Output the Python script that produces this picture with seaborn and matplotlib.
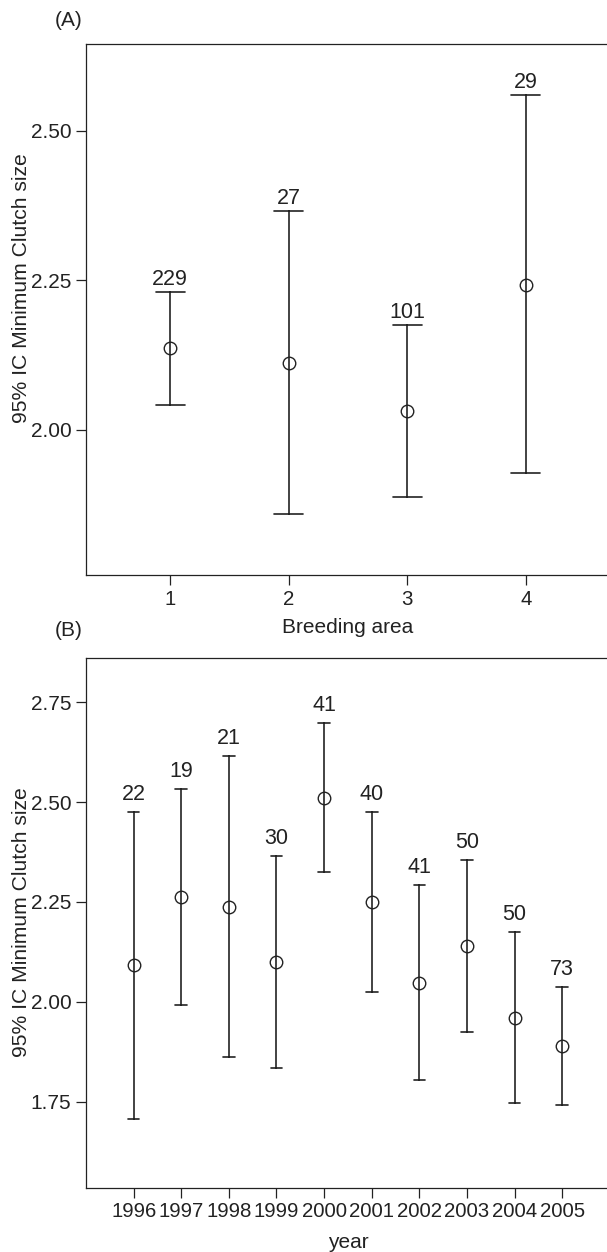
import numpy as np
import pandas as pd
import seaborn as sns
import matplotlib.pyplot as plt
from matplotlib.ticker import FormatStrFormatter

# Panel A: breeding area (mean and 95% CI limits, n per group)
areas = ['1', '2', '3', '4']
area_mean = [2.137, 2.112, 2.031, 2.243]
area_low = [2.042, 1.859, 1.888, 1.927]
area_high = [2.231, 2.366, 2.175, 2.560]
area_n = [229, 27, 101, 29]

# Panel B: year
years = ['1996', '1997', '1998', '1999', '2000', '2001', '2002', '2003', '2004', '2005']
year_mean = [2.091, 2.262, 2.238, 2.100, 2.511, 2.249, 2.048, 2.140, 1.960, 1.890]
year_low = [1.707, 1.992, 1.861, 1.835, 2.324, 2.024, 1.805, 1.924, 1.746, 1.742]
year_high = [2.475, 2.533, 2.615, 2.365, 2.699, 2.475, 2.292, 2.354, 2.174, 2.038]
year_n = [22, 19, 21, 30, 41, 40, 41, 50, 50, 73]

ink = '#222222'

sns.set_style('ticks')
plt.rcParams['font.family'] = ['Liberation Sans', 'DejaVu Sans']
plt.rcParams['text.color'] = ink
plt.rcParams['axes.labelcolor'] = ink
plt.rcParams['xtick.color'] = ink
plt.rcParams['ytick.color'] = ink
plt.rcParams['axes.edgecolor'] = ink


def long_form(cats, low, mean, high):
    # three rows per group: the median is the mean, min/max are the CI limits
    rows = []
    for c, lo, m, hi in zip(cats, low, mean, high):
        for v in (lo, m, hi):
            rows.append({'group': c, 'value': v})
    return pd.DataFrame(rows)


def draw_panel(ax, cats, low, mean, high, n, xlab, ylim, yticks, xlim, pad, ylab_y):
    df = long_form(cats, low, mean, high)
    sns.pointplot(data=df, x='group', y='value', order=cats, ax=ax,
                  estimator='median', errorbar=lambda v: (v.min(), v.max()),
                  capsize=0.245, color=ink, linestyle='none', marker='o',
                  markersize=9, markerfacecolor='none', markeredgecolor=ink,
                  markeredgewidth=1.0, err_kws={'linewidth': 1.2})
    for i, (hi, k) in enumerate(zip(high, n)):
        ax.annotate(str(k), (i, hi), xytext=(0, pad), textcoords='offset points',
                    ha='center', va='baseline', fontsize=15.5, color=ink)
    ax.set_xlim(*xlim)
    ax.set_ylim(*ylim)
    ax.set_yticks(yticks)
    ax.yaxis.set_major_formatter(FormatStrFormatter('%.2f'))
    ax.tick_params(direction='out', length=7, width=0.9)
    ax.tick_params(axis='y', labelsize=15)
    ax.tick_params(axis='x', labelsize=14.7)
    for s in ax.spines.values():
        s.set_linewidth(0.9)
    ax.set_xlabel(xlab, fontsize=15)
    ax.set_ylabel('95% IC Minimum Clutch size', fontsize=15.2)
    ax.yaxis.set_label_coords(-0.105, ylab_y)


fig = plt.figure(figsize=(6.07, 12.52), dpi=100)
ax_a = fig.add_axes([0.1417, 0.5405, 0.863, 0.4244])
ax_b = fig.add_axes([0.1417, 0.0515, 0.863, 0.4233])

draw_panel(ax_a, areas, area_low, area_mean, area_high, area_n, 'Breeding area',
           (1.7566, 2.6455), [2.00, 2.25, 2.50], (-0.71, 3.71), 5, 0.54)
ax_a.xaxis.set_label_coords(0.5, -0.081)

draw_panel(ax_b, years, year_low, year_mean, year_high, year_n, 'year',
           (1.535, 2.862), [1.75, 2.00, 2.25, 2.50, 2.75], (-1.0, 10.0), 8.6, 0.5)
ax_b.xaxis.set_label_coords(0.5, -0.086)

fig.text(69 / 607, 1 - 20 / 1252, '(A)', ha='center', va='center', fontsize=15, color=ink)
fig.text(69 / 607, 1 - 630 / 1252, '(B)', ha='center', va='center', fontsize=15, color=ink)

fig.savefig('out.png', dpi=100)
